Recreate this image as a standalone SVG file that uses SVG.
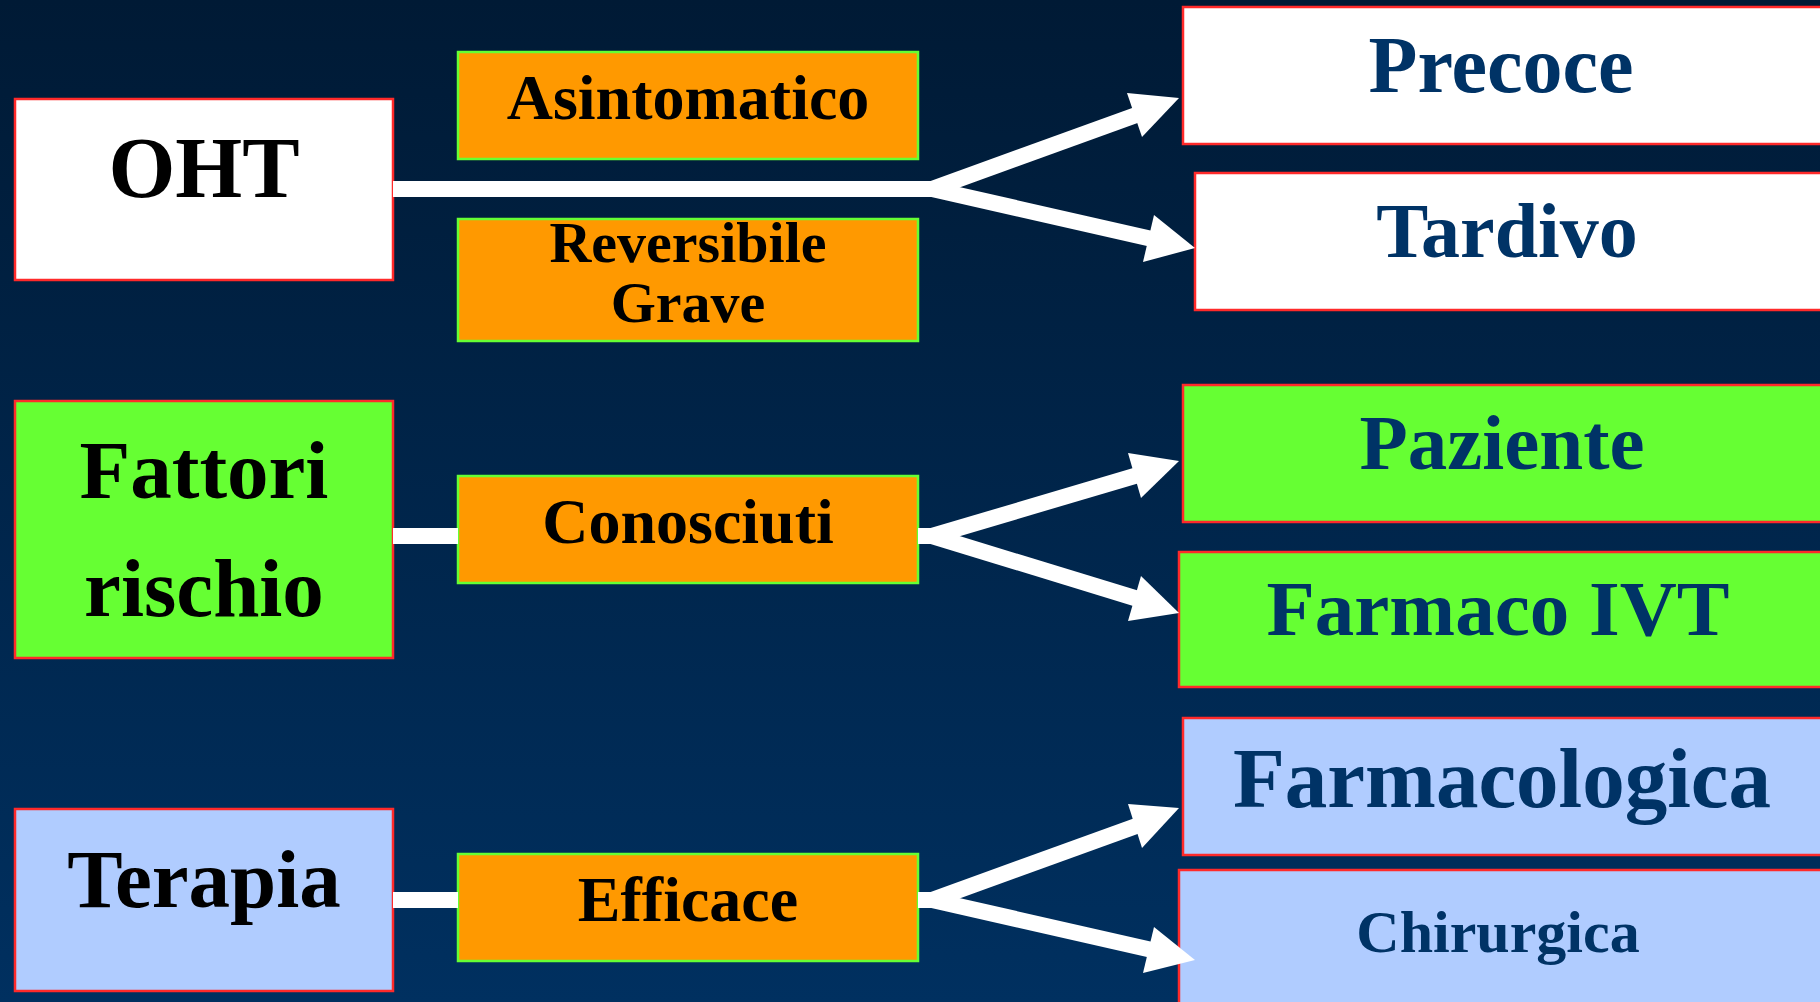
<svg xmlns="http://www.w3.org/2000/svg" width="1820" height="1002" viewBox="0 0 1820 1002">
<defs>
<linearGradient id="bg" x1="0" y1="0" x2="0" y2="1">
<stop offset="0" stop-color="#001a35"/>
<stop offset="1" stop-color="#003060"/>
</linearGradient>
</defs>
<style>
.main{stroke:#ff2a2a;stroke-width:2.5}
.w{fill:#ffffff}
.g{fill:#66ff33}
.b{fill:#b0ccff}
.o{fill:#ff9900;stroke:#66ff33;stroke-width:2.5}
text{font-family:"Liberation Serif","Times New Roman",serif;font-weight:bold;text-anchor:middle}
.k{fill:#000000}
.n{fill:#003366}
.line{stroke:#ffffff;stroke-width:16;fill:none}
.head{fill:#ffffff}
</style>
<rect x="0" y="0" width="1820" height="1002" fill="url(#bg)"/>

<g id="oht">
<rect class="main w" x="15" y="99" width="378" height="181"/>
<text class="k" x="204" y="197" font-size="86">OHT</text>
</g>
<g id="asintomatico">
<rect class="o" x="458" y="52" width="460" height="107"/>
<text class="k" x="688" y="119" font-size="64">Asintomatico</text>
</g>
<g id="reversibile">
<rect class="o" x="458" y="219" width="460" height="122"/>
<text class="k" x="688" y="262" font-size="58">Reversibile</text>
<text class="k" x="688" y="322" font-size="58">Grave</text>
</g>
<g id="precoce">
<rect class="main w" x="1183" y="7" width="640" height="137"/>
<text class="n" x="1501" y="92" font-size="80">Precoce</text>
</g>
<g id="tardivo">
<rect class="main w" x="1195" y="173" width="628" height="137"/>
<text class="n" x="1507" y="257" font-size="78">Tardivo</text>
</g>

<g id="fattori">
<rect class="main g" x="15" y="401" width="378" height="257"/>
<text class="k" x="204" y="498" font-size="83">Fattori</text>
<text class="k" x="204" y="616" font-size="83">rischio</text>
</g>
<g id="conosciuti">
<rect class="o" x="458" y="476" width="460" height="107"/>
<text class="k" x="688" y="543" font-size="64">Conosciuti</text>
</g>
<g id="paziente">
<rect class="main g" x="1183" y="385" width="640" height="137"/>
<text class="n" x="1502" y="469" font-size="79">Paziente</text>
</g>
<g id="farmaco">
<rect class="main g" x="1179" y="552" width="644" height="135"/>
<text class="n" x="1498" y="635" font-size="79">Farmaco IVT</text>
</g>

<g id="terapia">
<rect class="main b" x="15" y="809" width="378" height="182"/>
<text class="k" x="204" y="907" font-size="83">Terapia</text>
</g>
<g id="efficace">
<rect class="o" x="458" y="854" width="460" height="107"/>
<text class="k" x="688" y="921" font-size="64">Efficace</text>
</g>
<g id="farmacologica">
<rect class="main b" x="1183" y="718" width="640" height="137"/>
<text class="n" x="1502" y="807" font-size="85">Farmacologica</text>
</g>
<g id="chirurgica">
<rect class="main b" x="1179" y="870" width="644" height="150"/>
<text class="n" x="1498" y="952" font-size="60">Chirurgica</text>
</g>

<g id="connectors">
<line class="line" x1="393" y1="189" x2="940" y2="189"/>
<line class="line" x1="932" y1="189" x2="1139" y2="114"/>
<polygon class="head" points="1179,98 1127,93 1142,137"/>
<line class="line" x1="932" y1="189" x2="1152" y2="239"/>
<polygon class="head" points="1195,248 1154,215 1143,262"/>

<line class="line" x1="393" y1="536" x2="458" y2="536"/>
<line class="line" x1="918" y1="536" x2="940" y2="536"/>
<line class="line" x1="932" y1="536" x2="1138" y2="475"/>
<polygon class="head" points="1179,461 1128,453 1141,498"/>
<line class="line" x1="932" y1="536" x2="1138" y2="599"/>
<polygon class="head" points="1179,613 1141,576 1128,621"/>

<line class="line" x1="393" y1="900" x2="458" y2="900"/>
<line class="line" x1="918" y1="900" x2="940" y2="900"/>
<line class="line" x1="932" y1="900" x2="1139" y2="825"/>
<polygon class="head" points="1179,808 1128,804 1142,848"/>
<line class="line" x1="932" y1="900" x2="1152" y2="950"/>
<polygon class="head" points="1195,960 1154,927 1143,973"/>
</g>
</svg>
